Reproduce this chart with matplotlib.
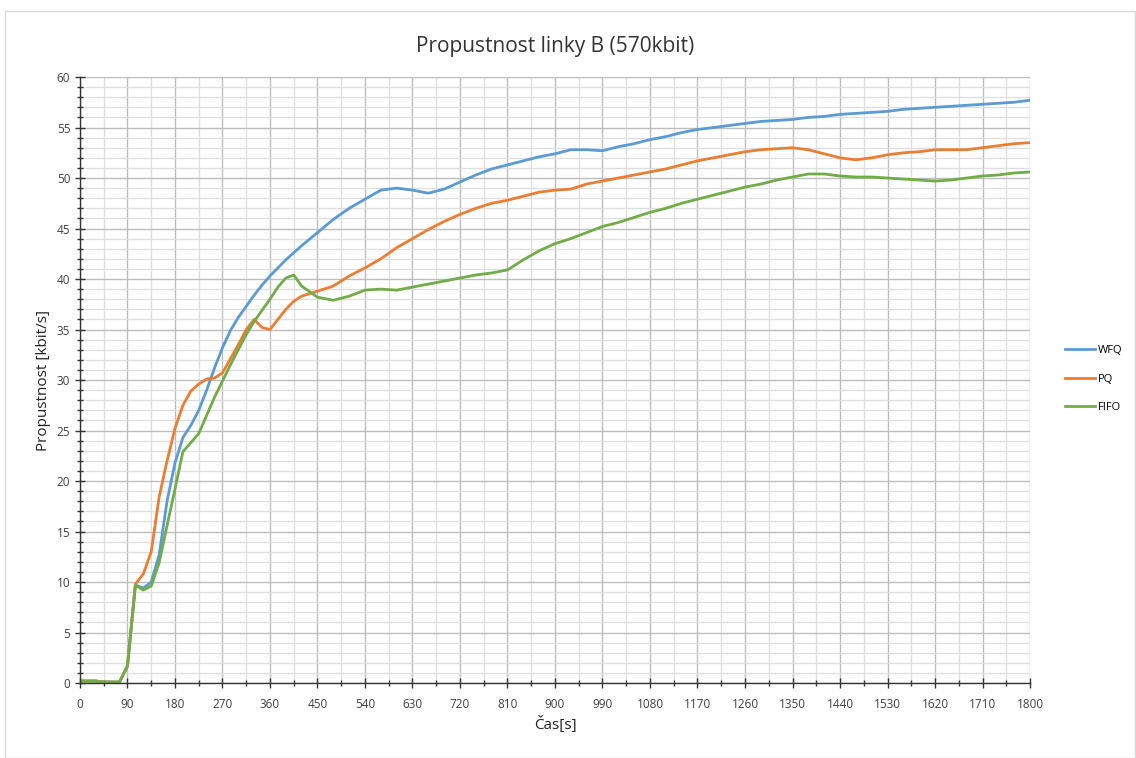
import numpy as np
import matplotlib
matplotlib.use('Agg')
import matplotlib.pyplot as plt
from matplotlib.patches import Rectangle
from matplotlib.ticker import MultipleLocator

plt.rcParams['font.family'] = ['Open Sans', 'DejaVu Sans']

# time axis: every 15 s up to 420, then every 30 s
cas = list(range(0, 421, 15)) + list(range(450, 1801, 30))

wfq = [0.2, 0.2, 0.2, 0.1, 0.1, 0.1, 1.7, 9.7, 9.4, 10.0, 12.7, 18.0, 21.8, 24.3, 25.5,
       27.0, 29.0, 31.2, 33.2, 34.9, 36.2, 37.3, 38.4, 39.4, 40.3, 41.1, 41.9, 42.6, 43.3,
       44.6, 45.9, 47.0, 47.9, 48.8, 49.0, 48.8, 48.5, 48.9, 49.6, 50.3, 50.9, 51.3, 51.7,
       52.1, 52.4, 52.8, 52.8, 52.7, 53.1, 53.4, 53.8, 54.1, 54.5, 54.8, 55.0, 55.2, 55.4,
       55.6, 55.7, 55.8, 56.0, 56.1, 56.3, 56.4, 56.5, 56.6, 56.8, 56.9, 57.0, 57.1, 57.2,
       57.3, 57.4, 57.5, 57.7]

pq = [0.2, 0.2, 0.2, 0.1, 0.1, 0.1, 1.7, 9.8, 10.8, 13.0, 18.4, 22.0, 25.2, 27.5, 28.9,
      29.6, 30.1, 30.2, 30.7, 32.1, 33.5, 35.0, 36.0, 35.2, 35.0, 36.0, 37.0, 37.8, 38.3,
      38.8, 39.3, 40.3, 41.1, 42.0, 43.1, 44.0, 44.9, 45.7, 46.4, 47.0, 47.5, 47.8, 48.2,
      48.6, 48.8, 48.9, 49.4, 49.7, 50.0, 50.3, 50.6, 50.9, 51.3, 51.7, 52.0, 52.3, 52.6,
      52.8, 52.9, 53.0, 52.8, 52.4, 52.0, 51.8, 52.0, 52.3, 52.5, 52.6, 52.8, 52.8, 52.8,
      53.0, 53.2, 53.4, 53.5]

fifo = [0.2, 0.2, 0.2, 0.1, 0.1, 0.1, 1.7, 9.7, 9.2, 9.6, 11.9, 15.6, 19.2, 22.9, 23.8,
        24.7, 26.5, 28.3, 29.9, 31.5, 33.0, 34.5, 35.8, 36.9, 38.0, 39.2, 40.1, 40.4, 39.3,
        38.2, 37.9, 38.3, 38.9, 39.0, 38.9, 39.2, 39.5, 39.8, 40.1, 40.4, 40.6, 40.9, 41.9,
        42.8, 43.5, 44.0, 44.6, 45.2, 45.6, 46.1, 46.6, 47.0, 47.5, 47.9, 48.3, 48.7, 49.1,
        49.4, 49.8, 50.1, 50.4, 50.4, 50.2, 50.1, 50.1, 50.0, 49.9, 49.8, 49.7, 49.8, 50.0,
        50.2, 50.3, 50.5, 50.6]

fig = plt.figure(figsize=(11.36, 7.58), dpi=100)
ax = fig.add_axes([0.0704, 0.0989, 0.8363, 0.7995])

ax.plot(cas, wfq, color='#5B9BD5', lw=2.0, label='WFQ')
ax.plot(cas, pq, color='#ED7D31', lw=2.0, label='PQ')
ax.plot(cas, fifo, color='#70AD47', lw=2.0, label='FIFO')

ax.set_xlim(0, 1800)
ax.set_ylim(0, 60)
ax.xaxis.set_major_locator(MultipleLocator(90))
ax.xaxis.set_minor_locator(MultipleLocator(45))
ax.yaxis.set_major_locator(MultipleLocator(5))
ax.yaxis.set_minor_locator(MultipleLocator(1))

ax.grid(which='major', color='#bdbdbd', lw=1.0)
ax.grid(which='minor', color='#dedede', lw=0.9)
ax.set_axisbelow(True)

for s in ['top', 'right']:
    ax.spines[s].set_visible(False)
for s in ['left', 'bottom']:
    ax.spines[s].set_color('#333333')
    ax.spines[s].set_linewidth(1.0)

ax.tick_params(which='major', direction='inout', length=7, width=1, color='#333333',
               labelsize=8.5, labelcolor='#404040')
ax.tick_params(axis='x', which='major', pad=7)
ax.tick_params(which='minor', direction='inout', length=5, width=1, color='#333333')

ax.set_title('Propustnost linky B (570kbit)', fontsize=15, color='#333333', pad=18)
ax.set_xlabel('Čas[s]', fontsize=11, color='#222222')
ax.set_ylabel('Propustnost [kbit/s]', fontsize=11, color='#222222')

fig.legend(loc='center left', bbox_to_anchor=(0.929, 0.5), frameon=False,
           fontsize=8, handlelength=2.7, handletextpad=0.2, labelspacing=1.6)

fig.patches.append(Rectangle((0.004, 0.0), 0.995, 0.985, transform=fig.transFigure,
                             fill=False, edgecolor='#d9d9d9', lw=1.0))

fig.savefig('out.png', dpi=100)
